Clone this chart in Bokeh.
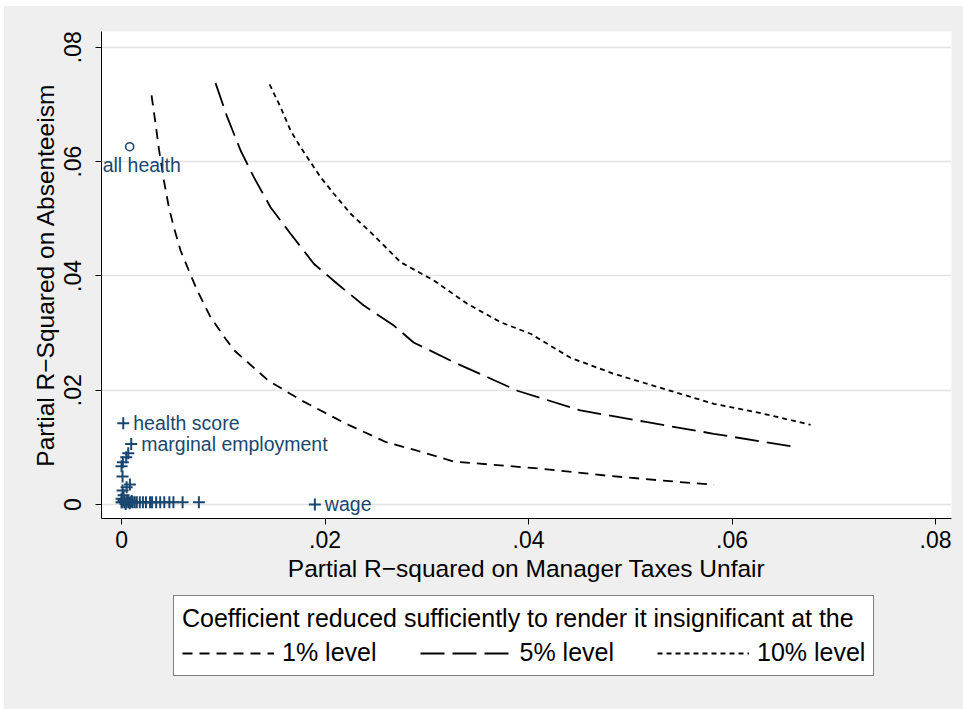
from bokeh.plotting import figure
from bokeh.layouts import column
from bokeh.models import FixedTicker, Legend, LegendItem, Range1d, LabelSet, ColumnDataSource
from bokeh.embed import file_html
from bokeh.resources import INLINE
from bokeh.core.properties import value

# ---- data ----
# threshold curves: coefficient rendered insignificant at 1%, 5%, 10%
c1_x = [0.00295, 0.00334, 0.00367, 0.00416, 0.00465, 0.00514, 0.0058, 0.00661, 0.00744,
        0.00875, 0.01022, 0.01109, 0.01441, 0.01769, 0.02201, 0.02602, 0.02899, 0.03263,
        0.04098, 0.04757, 0.05425, 0.05823]
c1_y = [0.07157, 0.06667, 0.06224, 0.05669, 0.05202, 0.04852, 0.04444, 0.04094, 0.03745,
        0.03277, 0.02900, 0.02695, 0.02170, 0.01820, 0.01417, 0.01090, 0.00945, 0.00752,
        0.00630, 0.00507, 0.00402, 0.00345]

c5_x = [0.00924, 0.01039, 0.0117, 0.013, 0.01464, 0.01661, 0.0189, 0.0212, 0.02381, 0.02676,
        0.0287, 0.03267, 0.03597, 0.03898, 0.04511, 0.05167, 0.05821, 0.06575]
c5_y = [0.07372, 0.06777, 0.06194, 0.05727, 0.05202, 0.04737, 0.04212, 0.03862, 0.03482,
        0.03132, 0.02835, 0.0249, 0.02227, 0.01986, 0.01645, 0.0144, 0.01237, 0.0102]

c10_x = [0.01455, 0.01563, 0.01661, 0.01759, 0.01857, 0.01956, 0.02087, 0.02251, 0.02447,
         0.02611, 0.02742, 0.03069, 0.03398, 0.03725, 0.0402, 0.04413, 0.04838, 0.0533,
         0.05821, 0.06312, 0.06772]
c10_y = [0.07349, 0.06952, 0.06544, 0.06252, 0.0599, 0.05727, 0.05437, 0.05087, 0.04765,
         0.04474, 0.0424, 0.0392, 0.03512, 0.0319, 0.02987, 0.02567, 0.02287, 0.02024,
         0.01762, 0.01587, 0.01395]

# benchmark covariates (unlabelled)
cov_x = [0.00066, 0.00046, 0.00013, 0.0, 0.0001, 0.00082, 0.0005, 0.0001, 0.0002, 0.0,
         0.0, 0.0001, 0.0003, 0.0005, 0.0007, 0.0009, 0.0011, 0.0013, 0.0015, 0.0018,
         0.0021, 0.0024, 0.0028, 0.003, 0.0034, 0.0038, 0.0042, 0.0047, 0.0051, 0.006,
         0.0076, 0.0002, 0.0006, 0.001, 0.0004, 0.0008]
cov_y = [0.00898, 0.00828, 0.0074, 0.0067, 0.0049, 0.0035, 0.003, 0.00245, 0.0016, 0.001,
         0.0004, 0.0004, 0.0004, 0.0004, 0.0004, 0.0004, 0.0004, 0.0004, 0.0004, 0.0004,
         0.0004, 0.0004, 0.0004, 0.0004, 0.0004, 0.0004, 0.0004, 0.0004, 0.0004, 0.0004,
         0.0004, 0.0008, 0.0007, 0.0006, 0.0001, 0.0002]

# labelled covariates
lab_names = ["health score", "marginal employment", "wage"]
lab_x = [0.00017, 0.00095, 0.019]
lab_y = [0.0142, 0.0106, 0.0]

# grouped health covariates (hollow circle)
grp_names = ["all health"]
grp_x = [0.0008]
grp_y = [0.0626]

ticks = [0, 0.02, 0.04, 0.06, 0.08]
tick_labels = ["0", ".02", ".04", ".06", ".08"]

legend_title = "Coefficient reduced sufficiently to render it insignificant at the"
level_labels = ["1% level", "5% level", "10% level"]

NAVY = "#1a476f"
BG = "#efefef"
FONT = "Liberation Sans"

p = figure(frame_width=850, frame_height=487,
           min_border_left=97, min_border_right=12, min_border_top=25, min_border_bottom=75,
           x_range=Range1d(-0.00197, 0.08157), y_range=Range1d(-0.00245, 0.08276),
           output_backend="svg", toolbar_location=None,
           background_fill_color="white", border_fill_color=BG)
p.outline_line_color = None

LINE_STYLES = [dict(line_color="black", line_width=1.8, line_dash="10 7"),
               dict(line_color="black", line_width=1.8, line_dash="24 8"),
               dict(line_color="black", line_width=1.8, line_dash="5 4")]
CURVES = [(c1_x, c1_y), (c5_x, c5_y), (c10_x, c10_y)]

for (cx, cy), st in zip(CURVES, LINE_STYLES):
    p.line(cx, cy, **st)

p.scatter(cov_x, cov_y, marker="cross", size=12, line_width=2, line_color=NAVY)
p.scatter(lab_x, lab_y, marker="cross", size=12, line_width=2, line_color=NAVY)
p.scatter(grp_x, grp_y, marker="circle", size=8, line_width=1.6, line_color=NAVY,
          fill_color=None)

lab_src = ColumnDataSource(dict(x=lab_x, y=lab_y, name=lab_names))
p.add_layout(LabelSet(x="x", y="y", text="name", source=lab_src, x_offset=10,
                      text_baseline="middle", text_align="left",
                      text_font=value(FONT), text_font_size=value("19.5px"),
                      text_color=NAVY))
grp_src = ColumnDataSource(dict(x=grp_x, y=grp_y, name=grp_names))
p.add_layout(LabelSet(x="x", y="y", text="name", source=grp_src, x_offset=-27, y_offset=-18,
                      text_baseline="middle", text_align="left",
                      text_font=value(FONT), text_font_size=value("19.5px"),
                      text_color=NAVY))

# axes
overrides = dict(zip(ticks, tick_labels))
for ax in (p.xaxis[0], p.yaxis[0]):
    ax.ticker = FixedTicker(ticks=ticks)
    ax.major_label_overrides = overrides
    ax.major_tick_in = 0
    ax.major_tick_out = 6
    ax.minor_tick_out = 0
    ax.minor_tick_in = 0
    ax.axis_line_color = "black"
    ax.major_tick_line_color = "black"
    ax.major_label_text_font = FONT
    ax.major_label_text_font_size = "23px"
    ax.major_label_text_color = "black"
    ax.axis_label_text_font = FONT
    ax.axis_label_text_font_size = "24.5px"
    ax.axis_label_text_font_style = "normal"
    ax.axis_label_text_color = "black"

p.xaxis.axis_label = "Partial R\u2212squared on Manager Taxes Unfair"
p.yaxis.axis_label = "Partial R\u2212Squared on Absenteeism"
p.xaxis.major_label_standoff = 6
p.xaxis.axis_label_standoff = 4
p.yaxis.major_label_standoff = 14
p.yaxis.axis_label_standoff = 3
p.yaxis.major_label_orientation = "vertical"

p.xgrid.visible = False
p.ygrid.ticker = FixedTicker(ticks=ticks)
p.ygrid.grid_line_color = "#e4e4e4"
p.ygrid.grid_line_width = 1.5

# legend strip: same curves as keys, drawn off its (out-of-data) ranges so only the legend shows
pl = figure(width=959, height=116, min_border=0,
            x_range=Range1d(1, 2), y_range=Range1d(1, 2),
            x_axis_location=None, y_axis_location=None,
            output_backend="svg", toolbar_location=None,
            background_fill_color=None, border_fill_color=BG)
pl.outline_line_color = None
pl.grid.visible = False
keys = [pl.line(cx, cy, **st) for (cx, cy), st in zip(CURVES, LINE_STYLES)]

legend = Legend(
    items=[LegendItem(label=lbl, renderers=[r]) for lbl, r in zip(level_labels, keys)],
    title=legend_title, orientation="horizontal", location=(72, 33),
    title_text_font=FONT, title_text_font_size="25px", title_text_font_style="normal",
    title_text_color="black", title_standoff=5,
    label_text_font=FONT, label_text_font_size="25px", label_text_color="black",
    glyph_width=92, glyph_height=28, label_height=28, label_standoff=8, spacing=43,
    padding=8, margin=0,
    border_line_color="black", border_line_width=1, background_fill_color="white",
    background_fill_alpha=1.0,
)
pl.add_layout(legend)

layout = column(p, pl, spacing=0, margin=(6, 0, 0, 4), styles={"background-color": BG})
open("out.html", "w").write(file_html(layout, INLINE))
